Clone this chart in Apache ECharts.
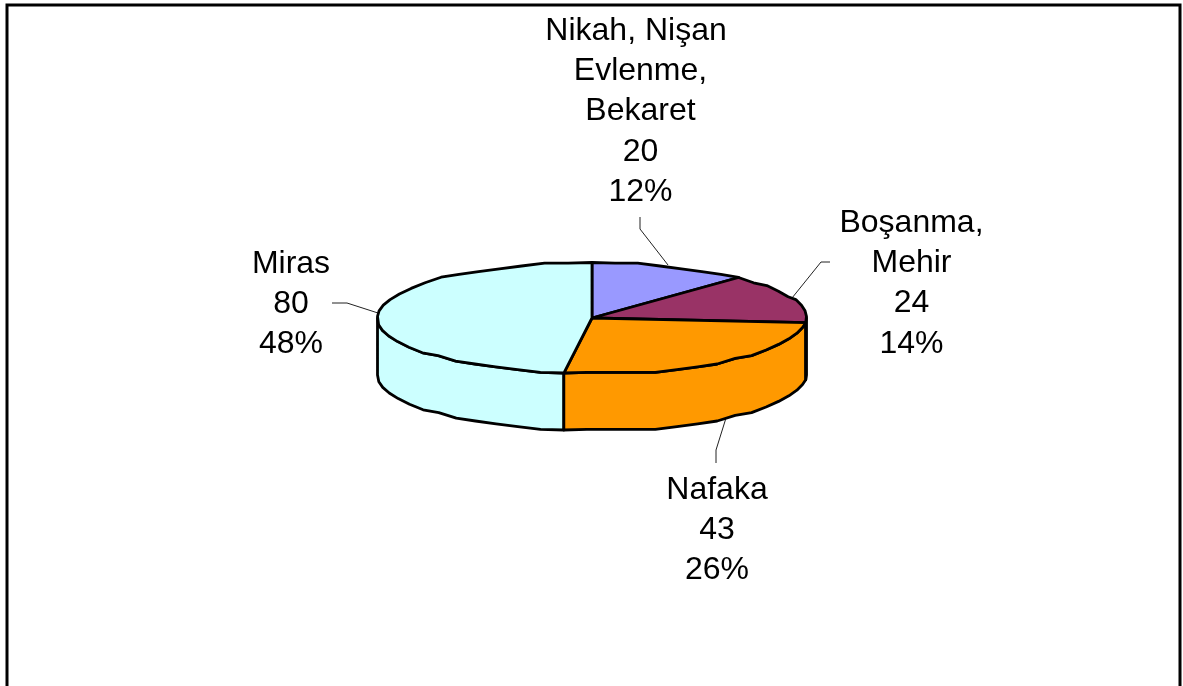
<!DOCTYPE html>
<html>
<head>
<meta charset="utf-8">
<style>html,body{margin:0;padding:0;background:#fff;overflow:hidden}#c{width:1183px;height:686px}</style>
<script src="https://cdn.jsdelivr.net/npm/echarts@6/dist/echarts.min.js"></script>
</head>
<body>
<div id="c"></div>
<script>
const categories = ['Nikah, Nişan \nEvlenme,\nBekaret', 'Boşanma,\nMehir', 'Nafaka', 'Miras'];
const values = [20, 24, 43, 80];
const colors = ['#9999FF', '#993366', '#FF9900', '#CCFFFF'];
const labelCentres = [[640.5, 11], [911.5, 203], [717, 470], [291, 244]];
const leaders = [
  [[640, 217], [640, 229], [668, 265]],
  [[830, 262], [821, 262], [792, 298]],
  [[716, 463], [716, 450], [726, 418]],
  [[332, 303], [347, 303], [378, 313]]
];

const cx = 592, cy = 318, rx = 214.5, ry = 55.5, depth = 57;
const total = values.reduce((a, b) => a + b, 0);
const FULL = Math.PI * 2;
const snapY = v => Math.round(v / 2.8) * 2.8;
function pt(a, dy, snap) {
  const x = cx + rx * Math.sin(a), y = cy - ry * Math.cos(a);
  return snap ? [x, snapY(y) + dy] : [x, y + dy];
}
function arc(a0, a1, dy) {
  const n = Math.max(2, Math.ceil((a1 - a0) / (FULL / 56)));
  const out = [];
  for (let i = 0; i <= n; i++) {
    const a = a0 + (a1 - a0) * i / n;
    out.push(pt(a, dy, i !== 0 && i !== n));
  }
  return out;
}
const starts = [];
values.reduce((s, v, i) => { starts[i] = s; return s + v; }, 0);

function renderItem(params, api) {
  const i = params.dataIndex;
  const v = api.value(0);
  const a0 = starts[i] / total * FULL, a1 = a0 + v / total * FULL;
  const stroke = { stroke: '#000', lineWidth: 2.8, lineJoin: 'round' };
  const children = [];
  const f0 = Math.max(a0, FULL / 4), f1 = Math.min(a1, FULL * 3 / 4);
  if (f1 > f0) {
    const front = arc(f0, f1, 0);
    const back = arc(f0, f1, depth).reverse();
    children.push({
      type: 'polygon', z2: 10 + (i === 3 ? 0 : i === 1 ? 3 : i),
      shape: { points: front.concat(back) },
      style: Object.assign({ fill: i === 1 ? '#000' : colors[i] }, stroke)
    });
  }
  children.push({
    type: 'polygon', z2: 20 + i,
    shape: { points: [[cx, cy]].concat(arc(a0, a1, 0)) },
    style: Object.assign({ fill: colors[i] }, stroke)
  });
  children.push({
    type: 'polyline', z2: 5,
    shape: { points: leaders[i] },
    style: { fill: 'none', stroke: '#222', lineWidth: 1 }
  });
  children.push({
    type: 'text', z2: 40,
    x: labelCentres[i][0], y: labelCentres[i][1],
    style: {
      text: categories[i] + '\n' + v + '\n' + Math.round(v / total * 100) + '%',
      font: '32px "Liberation Sans", Arial, sans-serif',
      lineHeight: 40.2, fill: '#000', align: 'center', verticalAlign: 'top'
    }
  });
  return { type: 'group', children };
}

const chart = echarts.init(document.getElementById('c'), null, { renderer: 'canvas' });
chart.setOption({
  backgroundColor: '#fff',
  animation: false,
  graphic: [{
    type: 'polyline', silent: true,
    shape: { points: [[7, 700], [7, 5], [1180, 5], [1180, 700]] },
    style: { fill: 'none', stroke: '#000', lineWidth: 3 }
  }],
  series: [{
    type: 'custom',
    coordinateSystem: 'none',
    renderItem,
    data: values.map((v, i) => ({ name: categories[i].trim(), value: [v] }))
  }]
});
</script>
</body>
</html>
